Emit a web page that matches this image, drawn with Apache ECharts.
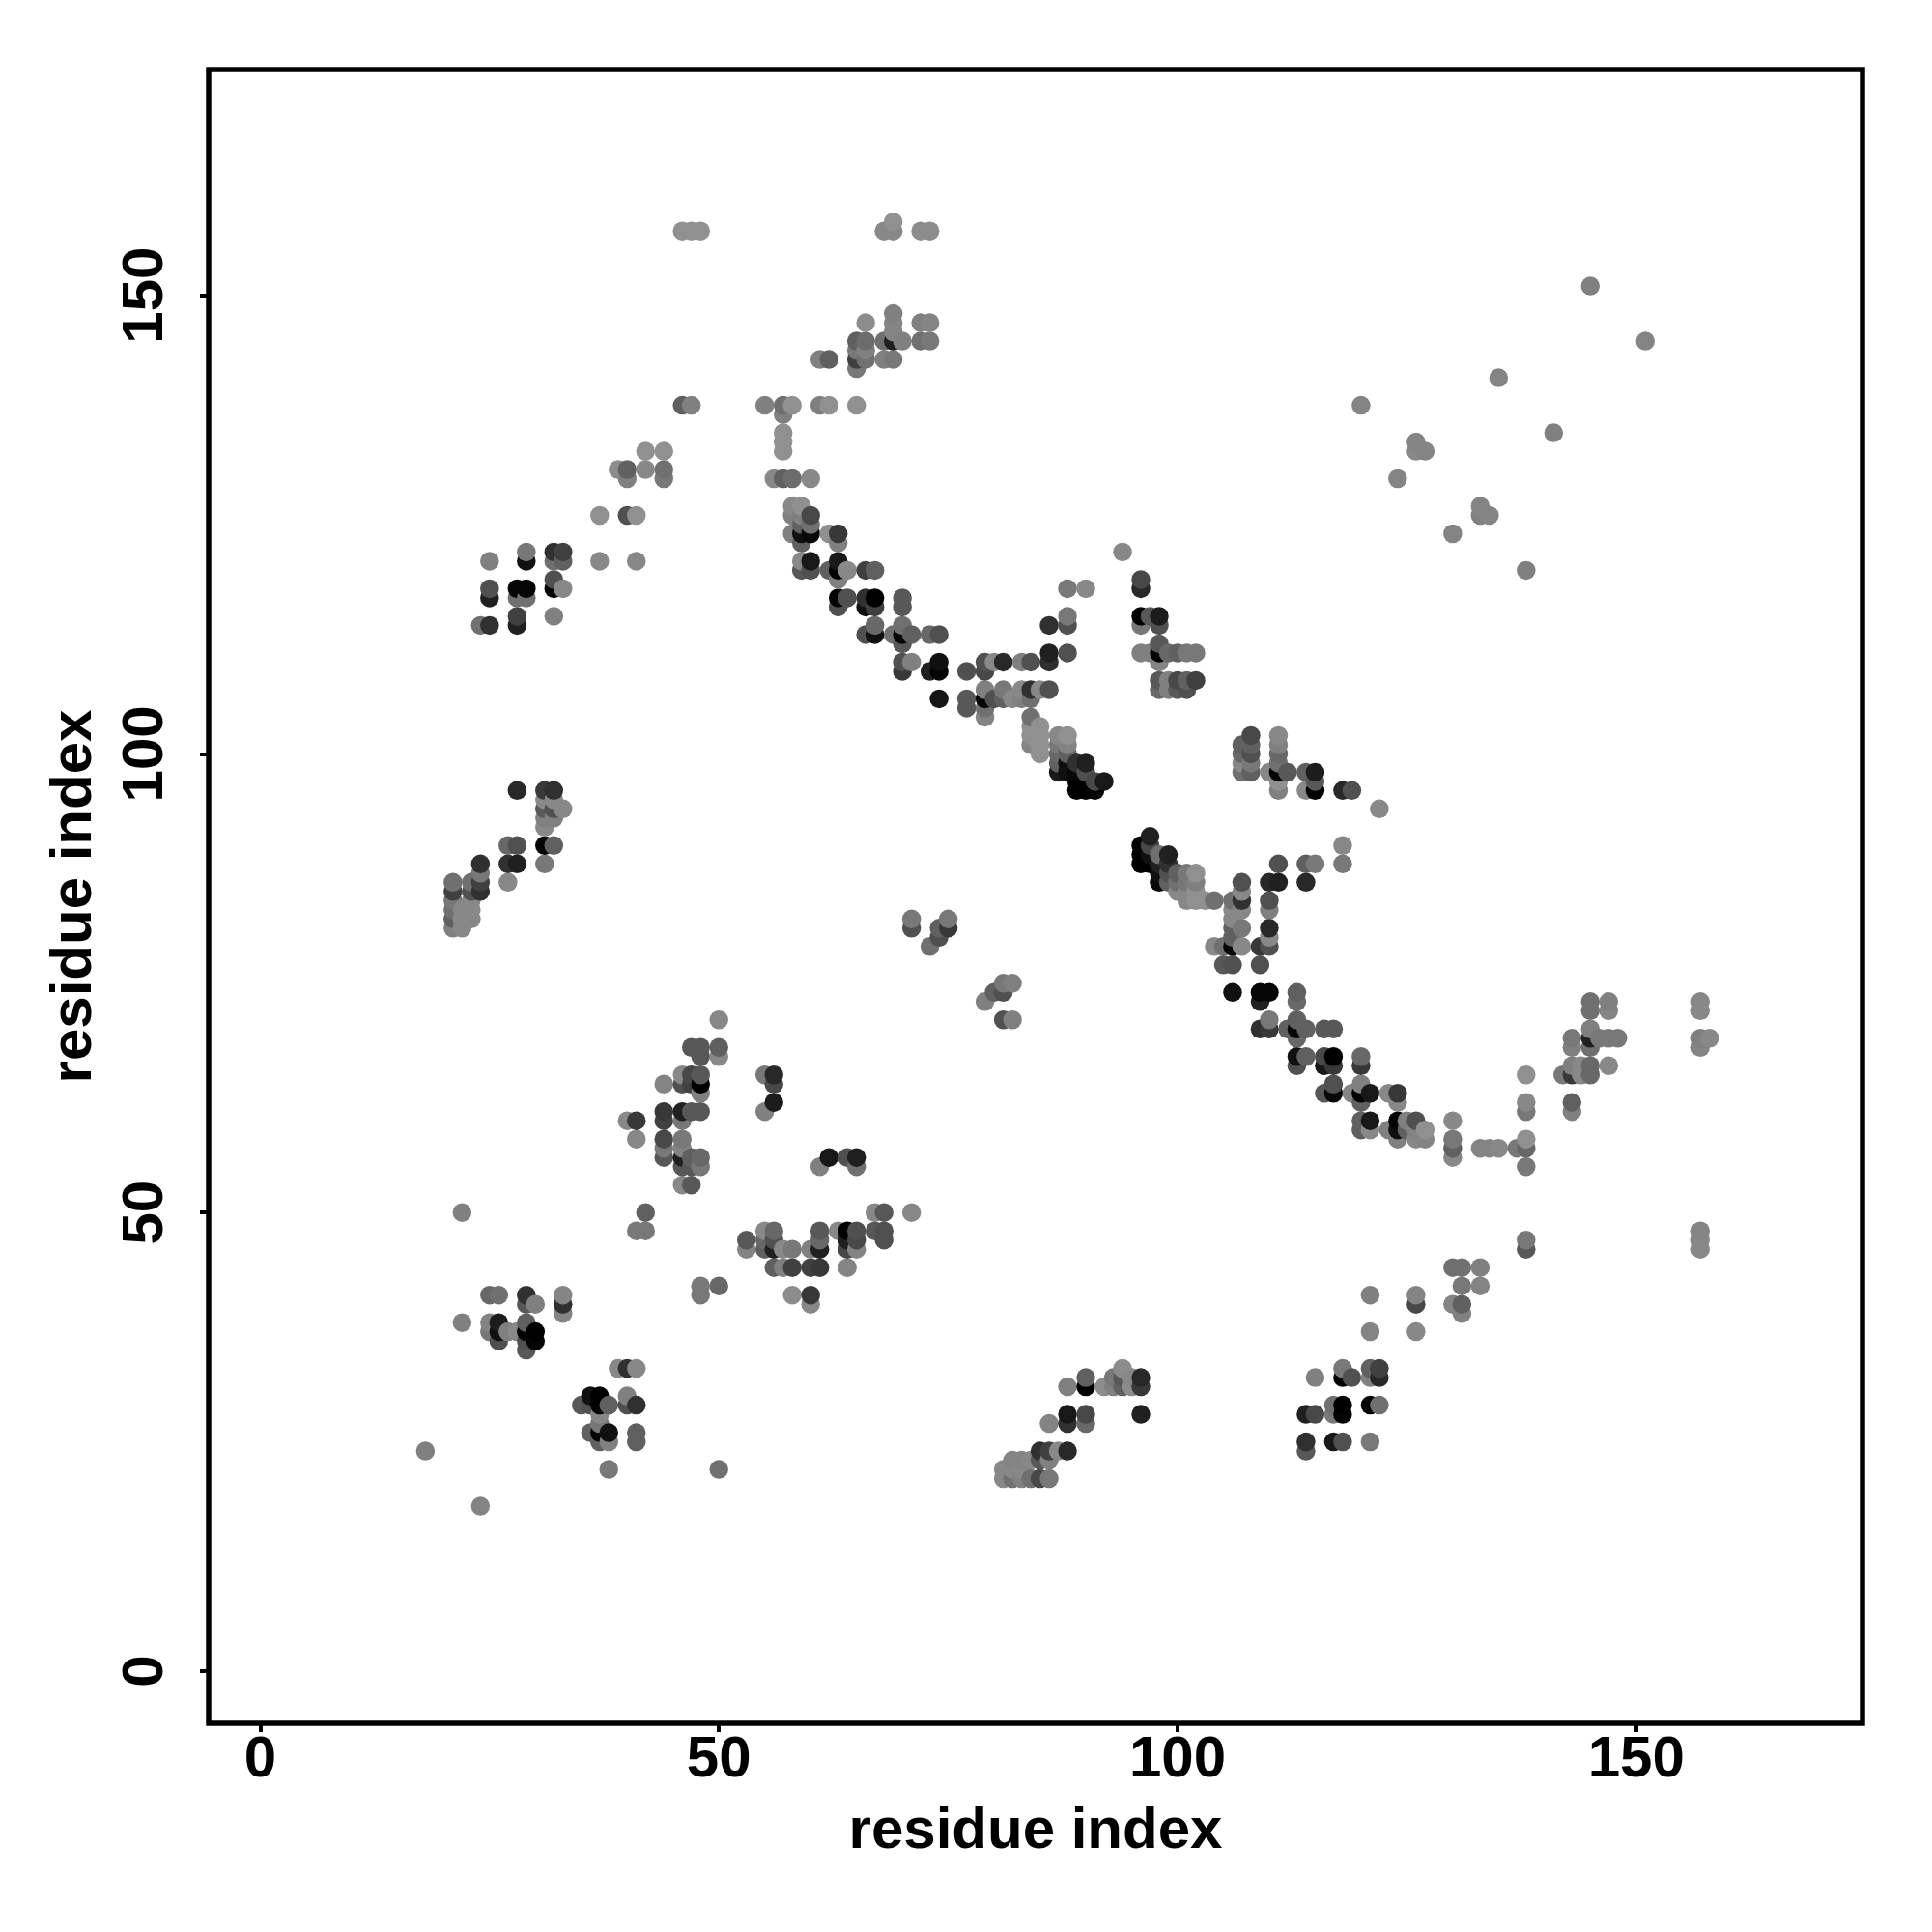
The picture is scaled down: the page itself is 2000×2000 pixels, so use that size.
<!DOCTYPE html>
<html>
<head>
<meta charset="utf-8">
<style>html,body{margin:0;padding:0;background:#fff}#c{width:2000px;height:2000px}</style>
<script src="https://cdn.jsdelivr.net/npm/echarts@6/dist/echarts.min.js"></script>
</head>
<body>
<div id="c"></div>
<script>
// every contact: [residue i, residue j, grey level]
const tickLabels = [0, 50, 100, 150];
const axisTitle = 'residue index';

const upperStrip = [
[46,157,0x90],[47,157,0x90],[48,157,0x90],[68,157,0x88],[69,158,0x90],[69,157,0x88],[72,157,0x8c],[73,157,0x8c],
[69,148,0x80],[69,147,0x84],[66,147,0x8c],[72,147,0x80],[73,147,0x84],[69,146,0x84],
[65,145,0x60],[66,145,0x6c],[68,145,0x70],[69,145,0x20],[70,145,0x80],[72,145,0x70],[73,145,0x78],
[65,144,0x78],[66,144,0x80],[61,143,0x80],[62,143,0x60],[65,143,0x40],[66,143,0x70],[68,143,0x80],[69,143,0x78],[65,142,0x78],
[46,138,0x60],[47,138,0x80],[55,138,0x80],[57,138,0x70],[58,138,0x90],[61,138,0x80],[62,138,0x90],[65,138,0x90],
[57,137,0x80],[57,135,0x90],[57,134,0x90],[57,133,0x90],
[56,130,0x88],[57,130,0x60],[58,130,0x6c],[60,130,0x88],
[42,133,0x90],[44,133,0x90],[39,131,0x8c],[40,131,0x60],[42,131,0x88],[44,131,0x70],[40,130,0x80],[44,130,0x78],
[37,126,0x90],[40,126,0x50],[41,126,0x90]
];
const upperLeftBlock = [
[25,121,0x80],[37,121,0x88],[41,121,0x88],[29,122,0x78],[29,121,0x10],[32,122,0x30],[33,122,0x40],[32,121,0x70],[33,121,0x60],
[25,118,0x50],[25,117,0x20],[28,118,0x05],[29,118,0x05],[28,117,0x70],[29,117,0x70],[32,119,0x50],[32,118,0x05],[33,118,0x88],
[24,114,0x70],[25,114,0x30],[28,115,0x40],[28,114,0x20],[32,115,0x80]
];
const mainDiagonalA = [
[58,127,0x88],[59,127,0x90],[58,126,0x80],[60,126,0x48],[59,126,0x80],[59,125,0x60],[60,125,0x70],[58,124,0x80],[59,124,0x10],[60,124,0x08],[59,123,0x60],
[62,124,0x90],[63,124,0x38],[63,123,0x80],[59,121,0x88],[60,121,0x18],[59,120,0x58],[60,120,0x50],
[63,121,0x18],[62,120,0x60],[63,120,0x00],[64,120,0x88],[63,119,0x80],[66,120,0x40],[67,120,0x60],
[63,117,0x05],[64,117,0x50],[63,116,0x50],[66,117,0x30],[67,117,0x00],[66,116,0x10],[67,116,0x40],[70,117,0x58],[70,116,0x58],
[67,114,0x68],[70,114,0x70],[66,113,0x50],[67,113,0x10],[69,113,0x70],[70,113,0x05],[71,113,0x60],[73,113,0x68],[74,113,0x50],[70,112,0x58],
[70,110,0x50],[71,110,0x80],[74,110,0x10],[70,109,0x38],[73,109,0x20],[74,109,0x05],[77,109,0x50],[74,106,0x15]
];
const crossBranch = [
[88,118,0x78],[90,118,0x88],[88,115,0x78],[88,114,0x50],[86,114,0x30],[86,111,0x20],[88,111,0x50],
[79,110,0x50],[80,110,0x88],[81,110,0x28],[83,110,0x80],[84,110,0x50],[86,110,0x30],[79,109,0x48],
[79,107,0x80],[81,107,0x78],[83,107,0x88],[84,107,0x30],[85,107,0x88],[86,107,0x50],
[77,106,0x58],[79,106,0x05],[80,106,0x50],[81,106,0x60],[82,106,0x88],[83,106,0x80],[84,106,0x70],
[77,105,0x58],[79,105,0x70],[79,104,0x84],[84,104,0x70],
[84,103,0x90],[84,102,0x90],[84,101,0x84],[85,103,0x90],[85,102,0x90],[85,101,0x90],[85,100,0x90],
[87,102,0x88],[87,101,0x78],[87,100,0x68],[87,99,0x60],[87,98,0x18],
[88,102,0x90],[88,101,0x84],[88,100,0x60],[88,99,0x10],[88,98,0x10],
[89,99,0x30],[89,98,0x08],[89,97,0x00],[89,96,0x00],[90,99,0x20],[90,98,0x50],[90,97,0x00],[90,96,0x00],
[91,97,0x48],[91,96,0x05],[92,97,0x18]
];
const midRightBlock = [
[94,122,0x88],[96,119,0x48],[96,118,0x28],[96,115,0x00],[97,115,0x58],[98,115,0x1c],[96,114,0x78],[98,114,0x50],[98,112,0x58],
[96,111,0x80],[97,111,0x80],[98,111,0x05],[99,111,0x68],[100,111,0x60],[101,111,0x78],[102,111,0x78],[98,110,0x84],
[98,108,0x58],[99,108,0x80],[100,108,0x48],[101,108,0x60],[102,108,0x40],[98,107,0x68],[99,107,0x80],[100,107,0x58],[101,107,0x50],
[108,102,0x48],[107,101,0x60],[108,101,0x60],[107,100,0x68],[108,100,0x50],[107,99,0x88],[108,99,0x78],[107,98,0x70],[108,98,0x60],
[111,102,0x88],[111,101,0x80],[111,100,0x68],[111,99,0x70],[111,98,0x05],[110,98,0x88],[112,98,0x58],[111,97,0x90],[111,96,0x80],
[114,98,0x60],[115,98,0x1c],[115,97,0x58],[115,96,0x00],[114,96,0x88],[118,96,0x28],[119,96,0x50],[122,94,0x88],
[118,90,0x88],[118,88,0x78],[111,88,0x50],[114,88,0x60],[115,88,0x78],[110,86,0x28],[111,86,0x20],[114,86,0x28]
];
const mainDiagonalB = [
[97,91,0x20],[96,90,0x05],[97,90,0x48],[96,89,0x00],[97,89,0x10],[98,89,0x70],[99,89,0x20],[96,88,0x00],[97,88,0x00],[98,88,0x20],[99,88,0x30],
[98,87,0x10],[99,87,0x50],[100,87,0x60],[101,87,0x78],[102,87,0x90],[98,86,0x08],[99,86,0x60],[100,86,0x70],[101,86,0x78],[102,86,0x80],
[100,85,0x88],[101,85,0x88],[102,85,0x90],[101,84,0x88],[102,84,0x90],[103,84,0x90],[104,84,0x70],
[107,86,0x50],[107,85,0x88],[107,84,0x30],[107,83,0x88],[106,84,0x70],[106,83,0x88],[106,82,0x88],[106,81,0x60],[107,81,0x78],[106,80,0x60],
[104,79,0x88],[105,79,0x70],[106,79,0x05],[107,79,0x88],[105,77,0x58],[106,77,0x50],[109,77,0x50],
[110,84,0x50],[110,83,0x80],[110,81,0x28],[110,80,0x88],[109,79,0x38],[110,79,0x50],
[106,74,0x10],[109,74,0x05],[110,74,0x05],[109,73,0x20],[113,74,0x60],[113,73,0x68],
[110,71,0x78],[109,70,0x30],[110,70,0x38],[112,70,0x60],[113,71,0x60],[113,70,0x05],[114,70,0x60],[113,69,0x68],[116,70,0x58],[117,70,0x58],
[113,67,0x10],[114,67,0x60],[113,66,0x50],[116,67,0x48],[117,67,0x00],[116,66,0x18],[117,66,0x38],[120,67,0x68],[120,66,0x38],
[117,64,0x50],[116,63,0x58],[117,63,0x08],[120,64,0x80],[119,63,0x84],[120,63,0x00],[121,63,0x18],[120,62,0x60],[123,63,0x88],[124,63,0x38],[124,62,0x88],
[120,60,0x60],[121,60,0x18],[120,59,0x60],[121,59,0x88],[123,59,0x80],[124,60,0x05],[124,59,0x10],[124,58,0x80],[125,60,0x80],[125,59,0x60],
[126,60,0x50],[126,59,0x84],[126,58,0x88],[127,59,0x90],[127,58,0x84]
];
const lowerRightArc = [
[130,60,0x88],[130,58,0x78],[130,57,0x60],[130,56,0x88],[133,57,0x84],[134,57,0x84],[135,57,0x88],[137,57,0x78],[138,57,0x68],[138,58,0x90],[138,55,0x78],
[138,65,0x90],[138,62,0x88],[138,61,0x78],[142,65,0x78],[143,66,0x80],[143,65,0x38],[144,66,0x88],[144,65,0x88],[145,66,0x68],[145,65,0x68],
[143,62,0x60],[143,61,0x80],[147,66,0x88],[145,73,0x70],[145,72,0x70],[147,73,0x80],[147,72,0x84],
[143,69,0x78],[143,68,0x80],[145,70,0x80],[145,69,0x20],[145,68,0x70],[146,69,0x78],[147,69,0x78],[148,69,0x78],
[157,73,0x88],[157,72,0x88],[157,69,0x80],[157,68,0x84],[158,69,0x88],[157,48,0x84],[157,47,0x88],[157,46,0x88],
[138,47,0x78],[138,46,0x58],[130,44,0x70],[131,44,0x70],[133,44,0x80],[131,42,0x78],[133,42,0x84],[130,40,0x84],[131,40,0x60],[131,39,0x80],
[126,41,0x84],[126,40,0x48],[126,37,0x88]
];
const lowerRightBlock = [
[121,41,0x80],[121,37,0x84],[118,33,0x78],[118,32,0x00],[119,32,0x50],[115,32,0x80],[121,33,0x60],[122,33,0x40],[121,32,0x80],[122,32,0x28],
[117,29,0x70],[118,29,0x00],[117,28,0x78],[118,28,0x05],[114,28,0x20],[115,28,0x48],[121,29,0x05],[122,29,0x70],
[114,25,0x30],[114,24,0x58],[117,25,0x18],[118,25,0x50],[121,25,0x78]
];
const lowerCentreStrand = [
[94,33,0x8c],[93,32,0x78],[94,32,0x58],[95,32,0x88],[96,32,0x28],[92,31,0x8c],[93,31,0x80],[94,31,0x60],[95,31,0x8c],[96,31,0x38],
[90,32,0x60],[90,31,0x00],[88,31,0x80],[96,28,0x20],[88,28,0x18],[90,28,0x48],[88,27,0x30],[90,27,0x68],[86,27,0x84],
[85,24,0x30],[86,24,0x40],[87,24,0x88],[88,24,0x28],[85,23,0x58],[86,23,0x80],
[82,23,0x84],[83,23,0x84],[84,23,0x88],[81,22,0x88],[82,22,0x88],[83,22,0x88],
[81,21,0x88],[82,21,0x70],[83,21,0x80],[84,21,0x70],[85,21,0x48],[86,21,0x78]
];
const leftStrand = [
[28,96,0x28],[31,96,0x38],[32,96,0x30],[31,95,0x88],[32,95,0x88],[31,94,0x58],[32,94,0x50],[33,94,0x88],[31,93,0x80],[32,93,0x80],[31,92,0x88],
[27,90,0x68],[28,90,0x50],[31,90,0x05],[32,90,0x60],[27,88,0x30],[28,88,0x20],[31,88,0x78],
[24,88,0x30],[24,87,0x78],[24,86,0x40],[24,85,0x30],[23,86,0x70],[23,85,0x50],[27,86,0x88],
[21,86,0x70],[21,85,0x40],[21,84,0x78],[21,83,0x70],[21,82,0x60],[21,81,0x80],
[22,83,0x88],[23,83,0x88],[22,82,0x88],[23,82,0x88],[22,81,0x88],[23,84,0x88]
];
const centreLeftBlock = [
[50,71,0x88],[47,68,0x58],[48,68,0x58],[50,68,0x60],[48,67,0x58],[50,67,0x88],
[46,65,0x88],[47,65,0x48],[48,65,0x58],[46,64,0x50],[47,64,0x40],[48,64,0x00],[44,64,0x84],[48,63,0x80],
[44,61,0x38],[44,60,0x40],[46,61,0x20],[47,61,0x58],[48,61,0x58],[46,60,0x78],[40,60,0x88],[41,60,0x38],[41,58,0x88],
[44,58,0x48],[44,57,0x78],[44,56,0x58],[46,58,0x78],[46,57,0x84],[46,56,0x20],[47,56,0x60],[48,56,0x68],[46,55,0x58],[47,55,0x58],[48,55,0x78],
[46,53,0x88],[47,53,0x58],[42,50,0x60],[41,48,0x78],[42,48,0x78],
[55,65,0x78],[56,65,0x28],[56,64,0x48],[56,62,0x1c],[55,61,0x80],
[61,55,0x80],[62,56,0x18],[64,56,0x50],[65,56,0x20],[65,55,0x70]
];
const centreLowerStrand = [
[67,50,0x88],[68,50,0x58],[71,50,0x88],[55,48,0x88],[56,48,0x68],[61,48,0x58],[63,48,0x88],[64,48,0x00],[65,48,0x50],[67,48,0x58],[68,48,0x50],[68,47,0x50],
[53,47,0x58],[53,46,0x84],[55,47,0x68],[56,47,0x50],[61,47,0x68],[64,47,0x20],[65,47,0x48],
[55,46,0x60],[56,46,0x20],[57,46,0x88],[58,46,0x78],[60,46,0x80],[61,46,0x20],[64,46,0x48],[65,46,0x84],
[56,44,0x60],[57,44,0x80],[58,44,0x40],[60,44,0x40],[61,44,0x38],[64,44,0x84],
[48,42,0x78],[48,41,0x78],[50,42,0x68],[58,41,0x8c],[60,41,0x38],[60,40,0x88]
];
const lowerLeftBlock = [
[22,50,0x80],[18,24,0x80],[24,18,0x84],[38,22,0x78],[50,22,0x70],
[25,41,0x68],[26,41,0x70],[29,41,0x30],[29,40,0x58],[30,40,0x80],[33,41,0x84],[33,40,0x30],[33,39,0x84],
[22,38,0x80],[25,38,0x84],[26,38,0x1c],[25,37,0x78],[26,37,0x10],[26,36,0x50],[27,37,0x80],[28,37,0x88],[29,38,0x60],[29,37,0x05],[30,37,0x00],[30,36,0x05],[29,36,0x50],[29,35,0x58],
[39,33,0x88],[40,33,0x30],[41,33,0x88],[36,30,0x10],[37,30,0x00],[35,29,0x58],[36,29,0x50],[37,29,0x05],[38,29,0x60],[40,30,0x80],[40,29,0x50],[41,29,0x30],
[37,28,0x88],[37,27,0x78],[36,26,0x60],[37,26,0x05],[38,26,0x10],[37,25,0x60],[38,25,0x80],[41,26,0x60],[41,25,0x60]
];
const sparseUpperRight = [
[145,151,0x80],[151,145,0x84],[135,141,0x84],[120,138,0x84],[141,135,0x80],[126,134,0x84],[126,133,0x88],[127,133,0x84],
[124,130,0x84],[130,124,0x84],[133,127,0x84],[133,126,0x80],[134,126,0x84],[138,120,0x80]
];
const isolatedMid = [
[71,82,0x78],[71,81,0x50],[75,82,0x78],[74,81,0x60],[75,81,0x38],[74,80,0x50],[73,79,0x70],[81,75,0x78],[82,75,0x80],[80,74,0x60],[81,74,0x50],[79,73,0x80],[81,71,0x50],[82,71,0x80]
];

const contacts = [].concat(upperStrip, upperLeftBlock, mainDiagonalA, crossBranch, midRightBlock, mainDiagonalB,
  lowerRightArc, lowerRightBlock, lowerCentreStrand, leftStrand, centreLeftBlock, centreLowerStrand, lowerLeftBlock,
  sparseUpperRight, isolatedMid).sort((a, b) => a[0] - b[0] || a[1] - b[1]);

const FONT = '"Liberation Sans"';
function makeAxis(isY) {
  return {
    type: 'value',
    min: isY ? -5.69 : -5.63,
    max: isY ? 174.6 : 174.67,
    splitLine: { show: false },
    axisLine: { show: false, onZero: false },
    axisTick: { show: true, length: 9, inside: false, customValues: tickLabels, lineStyle: { color: '#000', width: 4 } },
    axisLabel: {
      show: true, customValues: tickLabels, color: '#000', fontFamily: FONT, fontWeight: 'bold', fontSize: 60,
      margin: isY ? 35 : 8, rotate: isY ? 90 : 0
    },
    name: axisTitle,
    nameLocation: 'center',
    nameGap: isY ? 109 : 82,
    nameTextStyle: { color: '#000', fontFamily: FONT, fontWeight: 'bold', fontSize: 60 }
  };
}
const chart = echarts.init(document.getElementById('c'), null, { renderer: 'canvas', width: 2000, height: 2000 });
chart.setOption({
  animation: false,
  backgroundColor: '#fff',
  grid: { left: 216, top: 72, width: 1712, height: 1712, show: true, borderColor: '#000', borderWidth: 5.5, backgroundColor: '#fff', containLabel: false },
  xAxis: makeAxis(false),
  yAxis: makeAxis(true),
  series: [{
    type: 'scatter',
    symbol: 'circle',
    symbolSize: 19.5,
    silent: true,
    progressive: 0,
    data: contacts.map(c => ({
      value: [c[0], c[1]],
      itemStyle: { color: `rgb(${c[2]},${c[2]},${c[2]})`, opacity: 1 }
    }))
  }]
});
</script>
</body>
</html>
